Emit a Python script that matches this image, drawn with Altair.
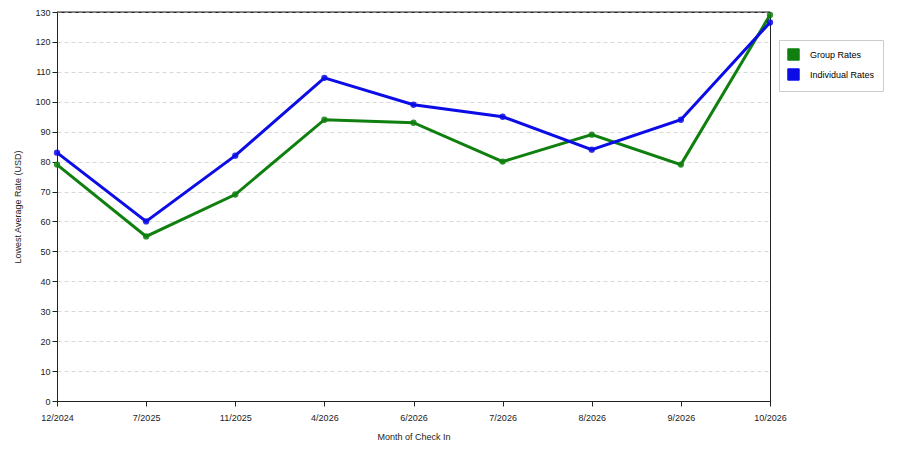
import altair as alt
import pandas as pd

months = ["12/2024", "7/2025", "11/2025", "4/2026", "6/2026", "7/2026", "8/2026", "9/2026", "10/2026"]
group_rates = [79, 55, 69, 94, 93, 80, 89, 79, 129]
individual_rates = [83, 60, 82, 108, 99, 95, 84, 94, 126.5]
series = ["Group Rates", "Individual Rates"]
colors = ["#0f7f0f", "#0c0ce6"]

# tabela longa a partir das listas
df = pd.DataFrame({
    "mes": months * 2,
    "valor": group_rates + individual_rates,
    "serie": [series[0]] * len(months) + [series[1]] * len(months),
})

fonte = "Liberation Sans"

eixo_y = alt.Axis(values=list(range(0, 131, 10)), tickSize=5, titlePadding=12,
                  grid=True, gridDash=[4, 3], gridColor="#d8d8d8")
escala_y = alt.Scale(domain=[0, 130], nice=False)
titulo_y = "Lowest Average Rate (USD)"

linhas = alt.Chart(df).mark_line(
    strokeWidth=3,
    point=alt.OverlayMarkDef(filled=True, size=40, opacity=0.85)
).encode(
    x=alt.X("mes:O", sort=months, title="Month of Check In",
            scale=alt.Scale(domain=months, padding=0),
            axis=alt.Axis(labelAngle=0, tickSize=5, labelPadding=7, titlePadding=10)),
    y=alt.Y("valor:Q", title=titulo_y, scale=escala_y, axis=eixo_y),
    color=alt.Color("serie:N", title=None,
                    scale=alt.Scale(domain=series, range=colors),
                    legend=alt.Legend(orient="none", legendX=722, legendY=28,
                                      symbolType="square", symbolSize=130,
                                      symbolStrokeColor="#333", symbolStrokeWidth=1,
                                      symbolOpacity=1,
                                      strokeColor="#cccccc", padding=8,
                                      labelFontSize=9, labelFont=fonte,
                                      rowPadding=3, labelOffset=10)),
    detail="serie:N",
)

# borda de cima por cima da grade
borda = alt.Chart(pd.DataFrame({"valor": [130]})).mark_rule(color="#222", strokeWidth=1).encode(
    y=alt.Y("valor:Q", title=titulo_y, scale=escala_y, axis=eixo_y)
)

grafico = alt.layer(linhas, borda).properties(
    width=713,
    height=389,
    autosize=alt.AutoSizeParams(type="none"),
    padding={"left": 49, "top": 4, "right": 120, "bottom": 40},
)

grafico = grafico.configure(background="white").configure_view(
    stroke="#222", strokeWidth=1
).configure_axis(
    domainColor="#222", tickColor="#222", labelFont=fonte, titleFont=fonte,
    labelFontSize=9, titleFontSize=9, labelColor="#222", titleColor="#222",
    titleFontWeight="normal", gridWidth=1
).configure_axisX(grid=False)

grafico.save("out.html", embed_options={"renderer": "svg", "actions": False})
